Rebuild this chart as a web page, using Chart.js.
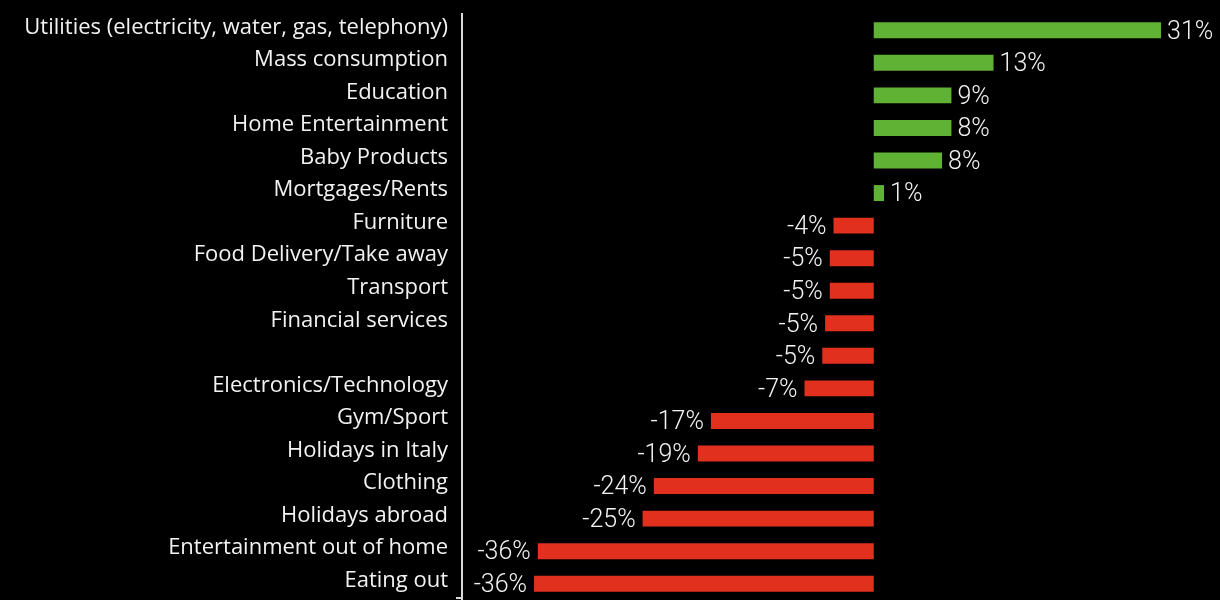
<!DOCTYPE html>
<html>
<head>
<meta charset="utf-8">
<script src="https://cdn.jsdelivr.net/npm/chart.js@4"></script>
<style>
  html, body { margin: 0; padding: 0; background: #000; overflow: hidden; }
  #wrap { width: 1220px; height: 600px; position: relative; }
</style>
</head>
<body>
<div id="wrap"><canvas id="spendChart"></canvas></div>
<script>
// categories, top to bottom
const categories = [
    'Utilities (electricity, water, gas, telephony)',
    'Mass consumption',
    'Education',
    'Home Entertainment',
    'Baby Products',
    'Mortgages/Rents',
    'Furniture',
    'Food Delivery/Take away',
    'Transport',
    'Financial services',
    '',
    'Electronics/Technology',
    'Gym/Sport',
    'Holidays in Italy',
    'Clothing',
    'Holidays abroad',
    'Entertainment out of home',
    'Eating out'
];

// change in spending (%)
const changes = [30.7, 12.8, 8.3, 8.3, 7.3, 1.1, -4.3, -4.7, -4.7, -5.2, -5.5, -7.4,
    -17.4, -18.8, -23.5, -24.7, -35.9, -36.3];

// the labels printed next to each bar
const valueLabels = ['31%', '13%', '9%', '8%', '8%', '1%', '-4%', '-5%', '-5%', '-5%', '-5%', '-7%',
    '-17%', '-19%', '-24%', '-25%', '-36%', '-36%'];

const green = '#5fb233';
const red = '#e2301f';

// draw the value next to each bar end
const valueLabelPlugin = {
    id: 'valueLabels',
    afterDatasetsDraw(chart) {
        const ctx = chart.ctx;
        const meta = chart.getDatasetMeta(0);
        ctx.save();
        ctx.font = '300 25px Roboto';
        ctx.fillStyle = '#f2f2f2';
        ctx.textBaseline = 'middle';
        meta.data.forEach((bar, i) => {
            const v = changes[i];
            if (v >= 0) {
                ctx.textAlign = 'left';
                ctx.fillText(valueLabels[i], bar.x + 6, bar.y + 2);
            } else {
                ctx.textAlign = 'right';
                ctx.fillText(valueLabels[i], bar.x - 7, bar.y + 2);
            }
        });
        ctx.restore();
    }
};

// small foot on the bottom of the category axis line
const axisFootPlugin = {
    id: 'axisFoot',
    afterDraw(chart) {
        const ctx = chart.ctx;
        const area = chart.chartArea;
        ctx.save();
        ctx.strokeStyle = '#d8d8d8';
        ctx.lineWidth = 2;
        ctx.beginPath();
        ctx.moveTo(area.left - 6, area.bottom - 2);
        ctx.lineTo(area.left + 1, area.bottom - 2);
        ctx.stroke();
        ctx.restore();
    }
};

const ctx = document.getElementById('spendChart').getContext('2d');
const spendChart = new Chart(ctx, {
    type: 'bar',
    data: {
        labels: categories,
        datasets: [{
            data: changes,
            backgroundColor: changes.map(v => v >= 0 ? green : red),
            borderWidth: 0,
            categoryPercentage: 1,
            barPercentage: 0.49
        }]
    },
    options: {
        indexAxis: 'y',
        responsive: true,
        maintainAspectRatio: false,
        animation: false,
        layout: { padding: { top: 14, right: 0, bottom: 0, left: 0 } },
        plugins: {
            legend: { display: false },
            tooltip: { enabled: false }
        },
        scales: {
            x: {
                display: false,
                min: -44,
                max: 37
            },
            y: {
                grid: { display: false, drawTicks: false },
                border: { display: true, color: '#d8d8d8', width: 2 },
                ticks: {
                    color: '#f2f2f2',
                    font: { family: 'Open Sans', size: 22 },
                    padding: 14,
                    labelOffset: -3,
                    autoSkip: false
                },
                afterFit(scale) {
                    scale.width = 462;
                    scale.paddingTop = 0;
                    scale.paddingBottom = 0;
                }
            }
        }
    },
    plugins: [valueLabelPlugin, axisFootPlugin]
});
</script>
</body>
</html>
